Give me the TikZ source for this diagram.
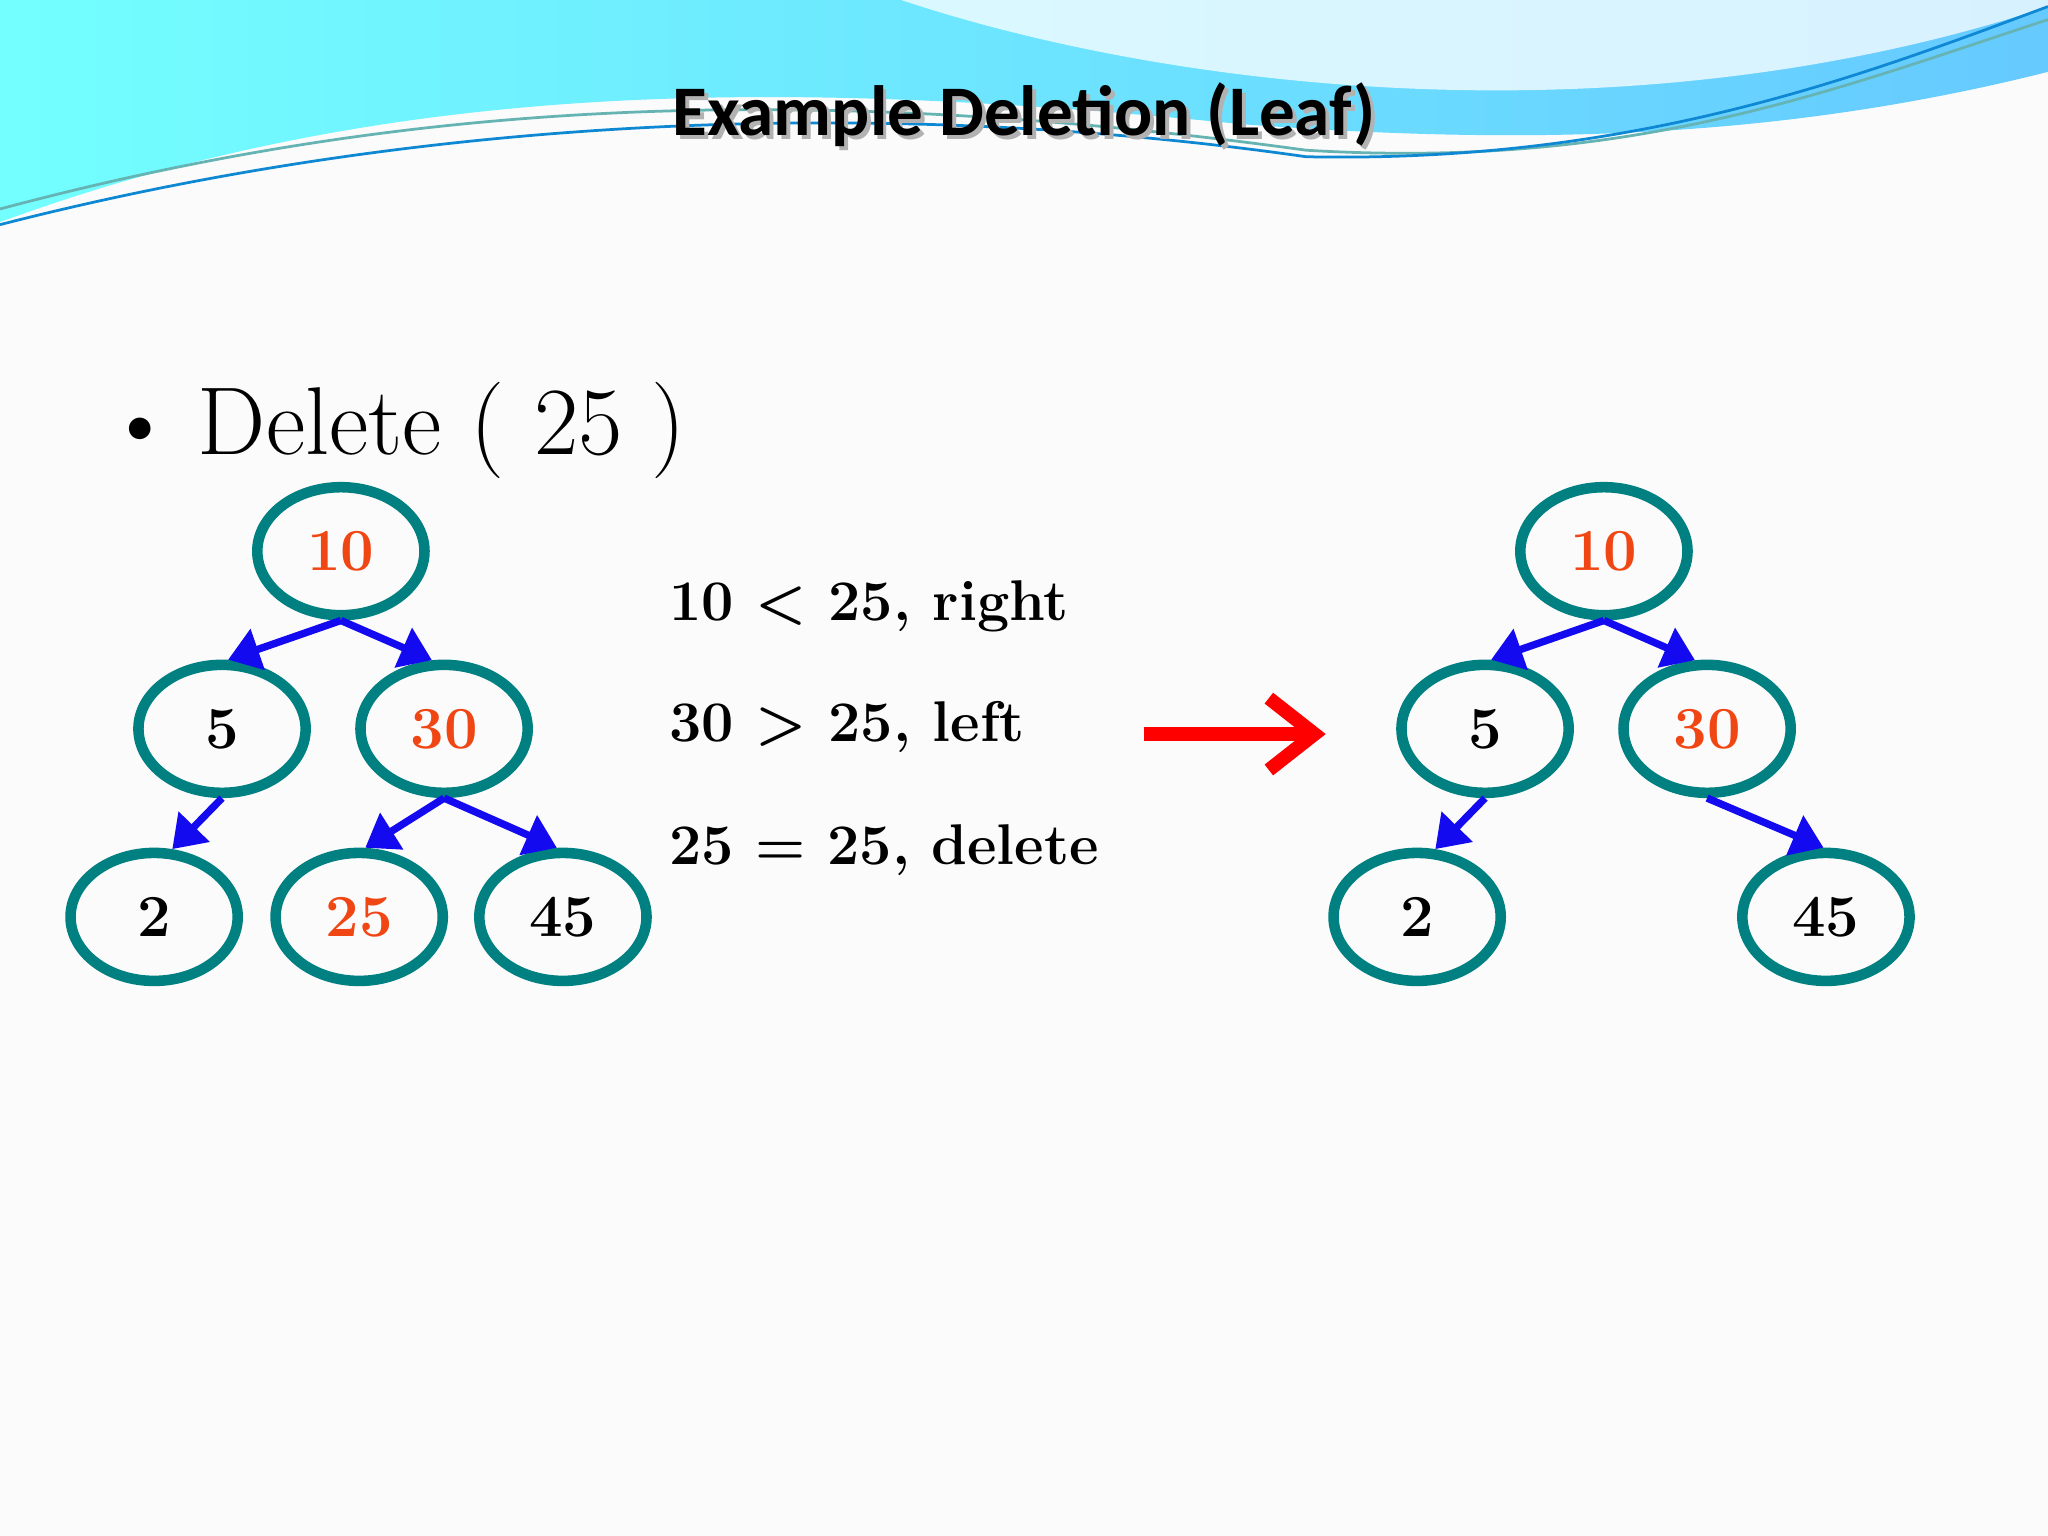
\documentclass[tikz,border=0pt]{standalone}
\usepackage{fontspec}
\newfontfamily\titlefont{Carlito}
\usetikzlibrary{arrows.meta,shapes.geometric}
\definecolor{teal2}{RGB}{0,128,128}
\definecolor{nred}{RGB}{240,70,20}
\definecolor{ablue}{RGB}{20,10,240}
\tikzset{
 tn/.style={ellipse,draw=teal2,line width=2.3pt,minimum width=12.8mm,minimum height=9.8mm,inner sep=0pt,font=\bfseries\fontsize{13}{15}\selectfont},
 ed/.style={draw=ablue,line width=1.6pt,-{Triangle[length=2.4mm,width=3.2mm]}},
 tx/.style={anchor=base west,inner sep=0pt,font=\bfseries\fontsize{12.5}{15}\selectfont}
}
\begin{document}
\begin{tikzpicture}[x=0.1mm,y=-0.1mm]
\useasboundingbox[fill=white!97!gray] (0,0) rectangle (1568,1176);
% header wave
\shade[left color=cyan!55!white,right color=blue!35!cyan!60!white]
 (0,0) -- (1568,0) -- (1568,55) .. controls (1350,110) and (1150,110) .. (950,95)
 .. controls (600,60) and (300,60) .. (0,170) -- cycle;
\fill[white,opacity=0.75] (690,0) .. controls (900,70) and (1250,110) .. (1568,5) -- (1568,0) -- cycle;
\draw[teal2!60,line width=0.6pt] (0,160) .. controls (300,80) and (600,60) .. (1000,115) .. controls (1250,130) and (1400,70) .. (1568,15);
\draw[cyan!70!blue,line width=0.6pt] (0,172) .. controls (300,95) and (650,70) .. (1000,120) .. controls (1250,125) and (1420,60) .. (1568,5);
\node[font=\titlefont\bfseries\fontsize{15.5}{18}\selectfont,text=gray!60] (titles) at (787,91) {Example Deletion (Leaf)};
\node[font=\titlefont\bfseries\fontsize{15.5}{18}\selectfont] (title) at (784,88) {Example Deletion (Leaf)};
% bullet
\node[anchor=base west,font=\fontsize{21}{24}\selectfont] (del) at (68,348) {\textbullet\hspace{1.8mm}Delete ( 25 )};
% left tree
\node[tn,text=nred] (a10) at (261,422) {10};
\node[tn] (a5) at (170,558) {5};
\node[tn,text=nred] (a30) at (340,558) {30};
\node[tn] (a2) at (118,702) {2};
\node[tn,text=nred] (a25) at (275,702) {25};
\node[tn] (a45) at (431,702) {45};
\draw[ed] (a10.south) -- (a5.85);
\draw[ed] (a10.south) -- (a30.100);
\draw[ed] (a5.south) -- (a2.75);
\draw[ed] (a30.south) -- (a25.85);
\draw[ed] (a30.south) -- (a45.95);
% text
\node[tx] (t1) at (512,475) {10 < 25, right};
\node[tx] (t2) at (512,568) {30 > 25, left};
\node[tx] (t3) at (512,662) {25 = 25, delete};
% big arrow
\coordinate (r1) at (876,562);
\coordinate (r2) at (1015,562);
\draw[red,line width=3pt,-{Straight Barb[length=3.5mm,width=5.5mm,line width=3pt]}] (r1) -- (r2);
% right tree
\node[tn,text=nred] (b10) at (1228,422) {10};
\node[tn] (b5) at (1137,558) {5};
\node[tn,text=nred] (b30) at (1307,558) {30};
\node[tn] (b2) at (1085,702) {2};
\node[tn] (b45) at (1398,702) {45};
\draw[ed] (b10.south) -- (b5.85);
\draw[ed] (b10.south) -- (b30.100);
\draw[ed] (b5.south) -- (b2.75);
\draw[ed] (b30.south) -- (b45.92);
\end{tikzpicture}
\end{document}
